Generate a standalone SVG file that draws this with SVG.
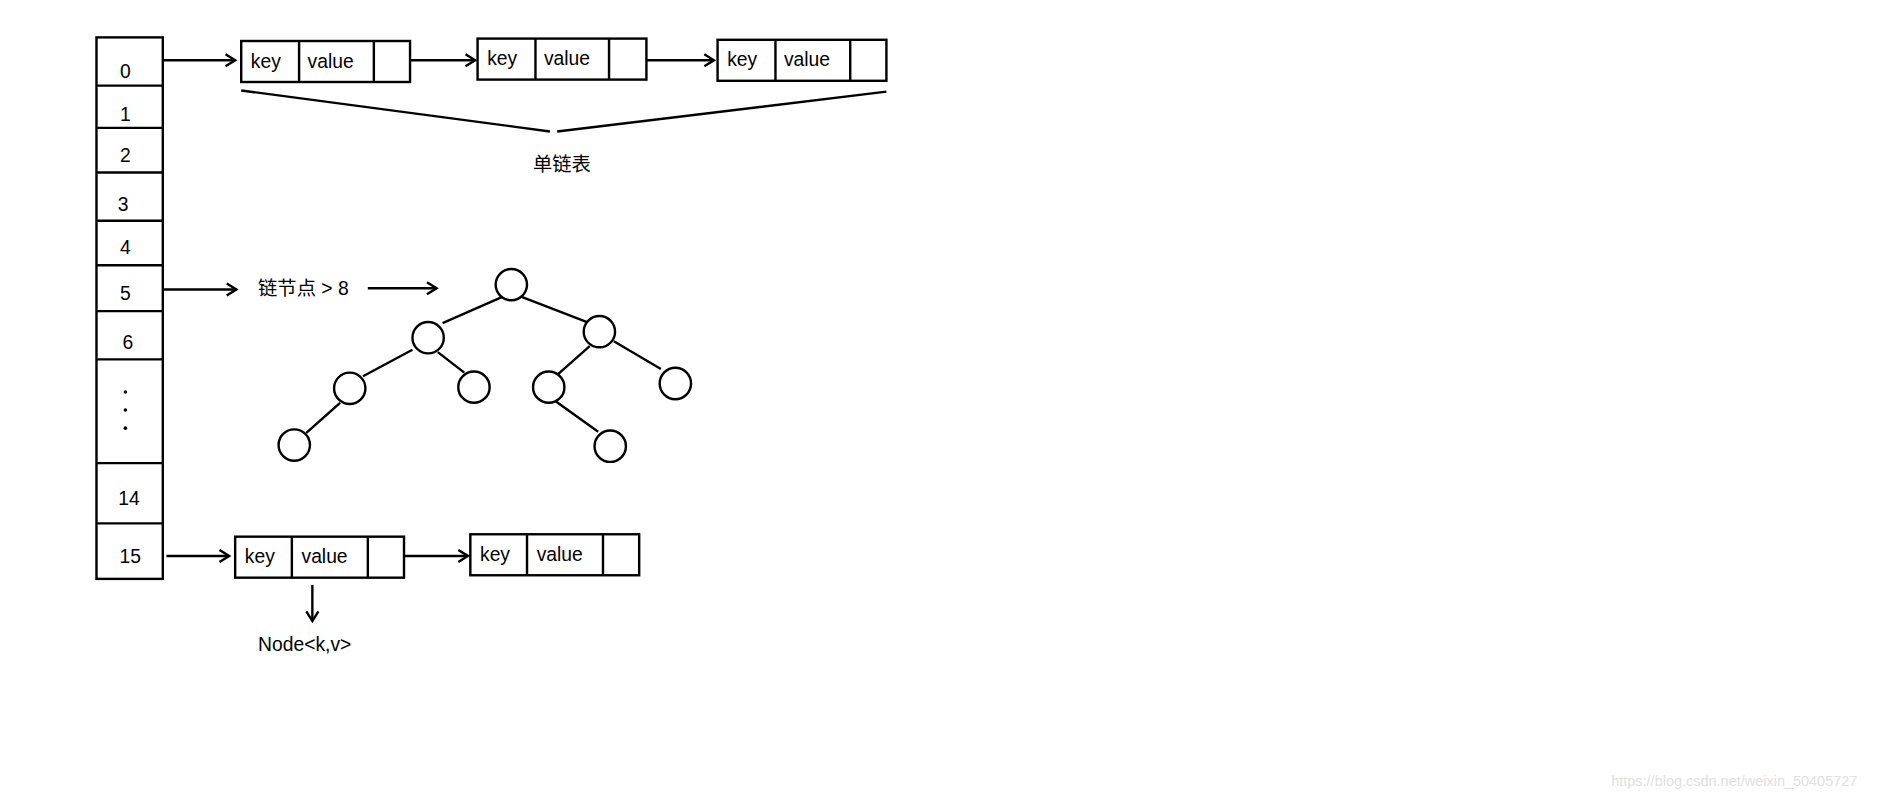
<svg xmlns="http://www.w3.org/2000/svg" width="1891" height="797" viewBox="0 0 1891 797">
<defs>
<marker id="ah" markerWidth="12" markerHeight="12" refX="10" refY="6" orient="auto" markerUnits="userSpaceOnUse"><path d="M2,1 L10,6 L2,11" fill="none" stroke="#000" stroke-width="2"/></marker>
</defs>
<style>
.s{fill:none;stroke:#000;stroke-width:2}
.t{font-family:"Liberation Sans","Noto Sans CJK SC",sans-serif;font-size:16px;fill:#000}
.c{fill:#fff;stroke:#000;stroke-width:2}
</style>
<rect width="1891" height="797" fill="#fff"/>
<g transform="scale(1.206)">
<g id="array">
<rect class="s" x="80" y="31" width="55" height="449"/>
<path class="s" d="M80,71H135M80,106H135M80,143H135M80,183H135M80,220H135M80,258H135M80,298H135M80,384H135M80,434H135"/>
<text class="t" x="104" y="65" text-anchor="middle">0</text>
<text class="t" x="104" y="100" text-anchor="middle">1</text>
<text class="t" x="104" y="134" text-anchor="middle">2</text>
<text class="t" x="102" y="175" text-anchor="middle">3</text>
<text class="t" x="104" y="211" text-anchor="middle">4</text>
<text class="t" x="104" y="249" text-anchor="middle">5</text>
<text class="t" x="106" y="289" text-anchor="middle">6</text>
<circle cx="104" cy="325" r="1.5"/><circle cx="104" cy="340" r="1.5"/><circle cx="104" cy="355" r="1.5"/>
<text class="t" x="107" y="419" text-anchor="middle">14</text>
<text class="t" x="108" y="467" text-anchor="middle">15</text>
</g>
<g id="n1"><rect class="s" x="200" y="34" width="140" height="34"/><path class="s" d="M248,34V68M310,34V68"/><text class="t" x="208" y="56">key</text><text class="t" x="255" y="56">value</text></g>
<g id="n2"><rect class="s" x="396" y="32" width="140" height="34"/><path class="s" d="M444,32V66M505,32V66"/><text class="t" x="404" y="54">key</text><text class="t" x="451" y="54">value</text></g>
<g id="n3"><rect class="s" x="595" y="33" width="140" height="34"/><path class="s" d="M643,33V67M705,33V67"/><text class="t" x="603" y="55">key</text><text class="t" x="650" y="55">value</text></g>
<g id="n4"><rect class="s" x="195" y="445" width="140" height="34"/><path class="s" d="M242,445V479M305,445V479"/><text class="t" x="203" y="467">key</text><text class="t" x="250" y="467">value</text></g>
<g id="n5"><rect class="s" x="390" y="443" width="140" height="34"/><path class="s" d="M437,443V477M500,443V477"/><text class="t" x="398" y="465">key</text><text class="t" x="445" y="465">value</text></g>
<g id="brace"><path class="s" d="M200,75L456,109M462,109L735,76"/><text class="t" x="466" y="142" text-anchor="middle">单链表</text></g>
<g id="label5"><text class="t" x="214" y="245">链节点 &gt; 8</text></g>
<g id="nodelabel"><text class="t" x="214" y="540">Node&lt;k,v&gt;</text></g>
<g id="connectors">
<path class="s" marker-end="url(#ah)" d="M135,50H195"/>
<path class="s" marker-end="url(#ah)" d="M340,50H394"/>
<path class="s" marker-end="url(#ah)" d="M536,50H592"/>
<path class="s" marker-end="url(#ah)" d="M135,240H196"/>
<path class="s" stroke-width="3" marker-end="url(#ah)" d="M305,239H362"/>
<path class="s" marker-end="url(#ah)" d="M138,461H190"/>
<path class="s" marker-end="url(#ah)" d="M335,461H388"/>
<path class="s" marker-end="url(#ah)" d="M259,485V515"/>
<path class="s" d="M417,246L367,268M432,246L489,268M342,290L301,312M363,292L385,309M489,287L463,310M509,283L548,306M282,334L254,359M461,333L496,358"/>
</g>
<g id="tree">
<circle class="c" cx="424" cy="236" r="13"/>
<circle class="c" cx="355" cy="280" r="13"/>
<circle class="c" cx="497" cy="275" r="13"/>
<circle class="c" cx="290" cy="322" r="13"/>
<circle class="c" cx="393" cy="321" r="13"/>
<circle class="c" cx="455" cy="321" r="13"/>
<circle class="c" cx="560" cy="318" r="13"/>
<circle class="c" cx="244" cy="369" r="13"/>
<circle class="c" cx="506" cy="370" r="13"/>
</g>
<text x="1336" y="652" style="font-family:'Liberation Sans',sans-serif;font-size:12px;fill:#e0e0e0">https://blog.csdn.net/weixin_50405727</text>
</g>
</svg>
